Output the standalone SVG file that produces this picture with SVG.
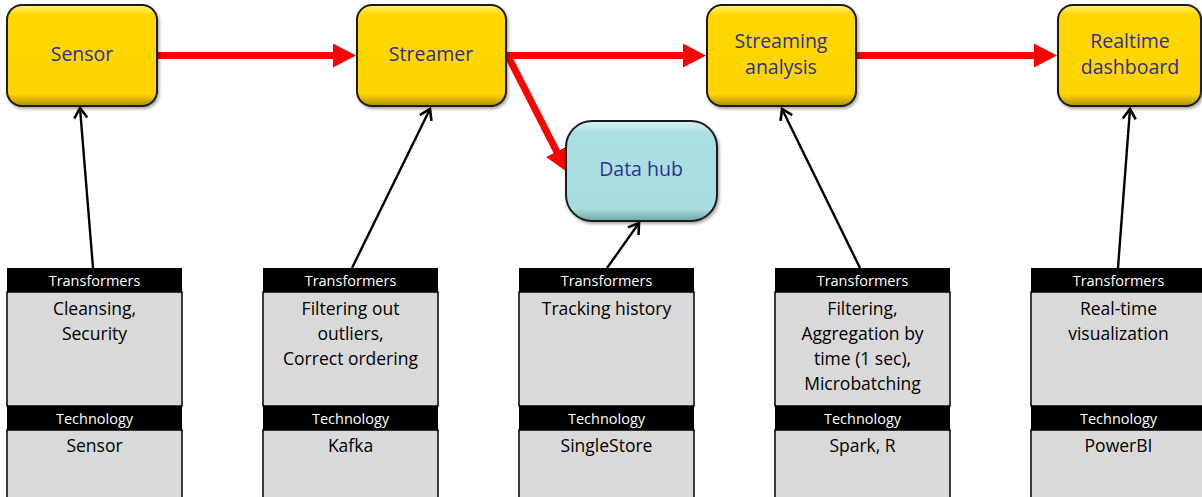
<svg xmlns="http://www.w3.org/2000/svg" width="1202" height="497" viewBox="0 0 1202 497">
<style>
.node{stroke:#1a1a1a;stroke-width:2}
.yel{fill:url(#gy)}
.cyan{fill:url(#gc)}
.nl{font-family:"Open Sans","Liberation Sans",sans-serif;font-size:19.5px;fill:#2E3192;text-anchor:middle}
.hdr{fill:#000}
.hl{font-family:"Open Sans","Liberation Sans",sans-serif;font-size:14.5px;fill:#fff;text-anchor:middle}
.cell{fill:#D9D9D9;stroke:#000;stroke-width:1.5}
.bt{font-family:"Open Sans","Liberation Sans",sans-serif;font-size:17.5px;fill:#000;text-anchor:middle}
.red{stroke:#FF0000;stroke-width:7;fill:none}
.blk{stroke:#000;stroke-width:2.4;fill:none}
</style>
<defs>
<linearGradient id="gy" x1="0" y1="0" x2="0" y2="1">
<stop offset="0" stop-color="#FFF27A"/>
<stop offset="0.1" stop-color="#FFD700"/>
<stop offset="0.88" stop-color="#FFD400"/>
<stop offset="1" stop-color="#B08F00"/>
</linearGradient>
<linearGradient id="gc" x1="0" y1="0" x2="0" y2="1">
<stop offset="0" stop-color="#D8F6F8"/>
<stop offset="0.12" stop-color="#ABDFE2"/>
<stop offset="0.88" stop-color="#A8DDE0"/>
<stop offset="1" stop-color="#6FA4A7"/>
</linearGradient>
<filter id="sh" x="-10%" y="-10%" width="130%" height="130%">
<feDropShadow dx="1.5" dy="2" stdDeviation="1.5" flood-color="#000" flood-opacity="0.35"/>
</filter>
<marker id="rh" markerUnits="userSpaceOnUse" viewBox="0 0 24 24" markerWidth="24" markerHeight="24" refX="5" refY="12" orient="auto">
<path d="M0,0 L23,12 L0,24 Z" fill="#FF0000"/>
</marker>
<marker id="bh" markerUnits="userSpaceOnUse" viewBox="-12 -8 14 16" markerWidth="14" markerHeight="16" refX="0" refY="0" orient="auto">
<path d="M-10,-6.5 L0,0 L-10,6.5" fill="none" stroke="#000" stroke-width="2.6"/>
</marker>
</defs>

<g id="connectors">
<path class="red" d="M157,55.5 L338,55.5" marker-end="url(#rh)"/>
<path class="red" d="M506,55.5 L688,55.5" marker-end="url(#rh)"/>
<path class="red" d="M856,55.5 L1039,55.5" marker-end="url(#rh)"/>
<path class="red" d="M508,56 L559,156" marker-end="url(#rh)"/>
<path class="blk" d="M93,268 L80,108" marker-end="url(#bh)"/>
<path class="blk" d="M352,268 L430,109" marker-end="url(#bh)"/>
<path class="blk" d="M607,268 L639,223" marker-end="url(#bh)"/>
<path class="blk" d="M860,268 L782,109" marker-end="url(#bh)"/>
<path class="blk" d="M1118,268 L1130,109" marker-end="url(#bh)"/>
</g>

<g id="node-sensor">
<rect class="node yel" x="7" y="5" width="150" height="101" rx="15" filter="url(#sh)"/>
<text class="nl" x="82" y="61">Sensor</text>
</g>
<g id="node-streamer">
<rect class="node yel" x="357" y="5" width="149" height="101" rx="15" filter="url(#sh)"/>
<text class="nl" x="431" y="61">Streamer</text>
</g>
<g id="node-streaming-analysis">
<rect class="node yel" x="707" y="5" width="149" height="101" rx="15" filter="url(#sh)"/>
<text class="nl" x="781" y="48">Streaming</text>
<text class="nl" x="781" y="74">analysis</text>
</g>
<g id="node-realtime-dashboard">
<rect class="node yel" x="1058" y="5" width="143" height="101" rx="15" filter="url(#sh)"/>
<text class="nl" x="1130" y="48">Realtime</text>
<text class="nl" x="1130" y="74">dashboard</text>
</g>
<g id="node-data-hub">
<rect class="node cyan" x="566" y="121" width="151" height="100" rx="26" filter="url(#sh)"/>
<text class="nl" x="641" y="176">Data hub</text>
</g>

<g id="table-sensor">
<rect class="cell" x="7" y="292" width="175" height="114"/>
<rect class="cell" x="7" y="430" width="175" height="70"/>
<rect class="hdr" x="7" y="268" width="175" height="24"/>
<rect class="hdr" x="7" y="406" width="175" height="24"/>
<text class="hl" x="94.5" y="286">Transformers</text>
<text class="hl" x="94.5" y="424">Technology</text>
<text class="bt" x="94.5" y="315">Cleansing,</text>
<text class="bt" x="94.5" y="340">Security</text>
<text class="bt" x="94.5" y="452">Sensor</text>
</g>
<g id="table-streamer">
<rect class="cell" x="263" y="292" width="175" height="114"/>
<rect class="cell" x="263" y="430" width="175" height="70"/>
<rect class="hdr" x="263" y="268" width="175" height="24"/>
<rect class="hdr" x="263" y="406" width="175" height="24"/>
<text class="hl" x="350.5" y="286">Transformers</text>
<text class="hl" x="350.5" y="424">Technology</text>
<text class="bt" x="350.5" y="315">Filtering out</text>
<text class="bt" x="350.5" y="340">outliers,</text>
<text class="bt" x="350.5" y="365">Correct ordering</text>
<text class="bt" x="350.5" y="452">Kafka</text>
</g>
<g id="table-data-hub">
<rect class="cell" x="519" y="292" width="175" height="114"/>
<rect class="cell" x="519" y="430" width="175" height="70"/>
<rect class="hdr" x="519" y="268" width="175" height="24"/>
<rect class="hdr" x="519" y="406" width="175" height="24"/>
<text class="hl" x="606.5" y="286">Transformers</text>
<text class="hl" x="606.5" y="424">Technology</text>
<text class="bt" x="606.5" y="315">Tracking history</text>
<text class="bt" x="606.5" y="452">SingleStore</text>
</g>
<g id="table-streaming-analysis">
<rect class="cell" x="775" y="292" width="175" height="114"/>
<rect class="cell" x="775" y="430" width="175" height="70"/>
<rect class="hdr" x="775" y="268" width="175" height="24"/>
<rect class="hdr" x="775" y="406" width="175" height="24"/>
<text class="hl" x="862.5" y="286">Transformers</text>
<text class="hl" x="862.5" y="424">Technology</text>
<text class="bt" x="862.5" y="315">Filtering,</text>
<text class="bt" x="862.5" y="340">Aggregation by</text>
<text class="bt" x="862.5" y="365">time (1 sec),</text>
<text class="bt" x="862.5" y="390">Microbatching</text>
<text class="bt" x="862.5" y="452">Spark, R</text>
</g>
<g id="table-realtime-dashboard">
<rect class="cell" x="1031" y="292" width="175" height="114"/>
<rect class="cell" x="1031" y="430" width="175" height="70"/>
<rect class="hdr" x="1031" y="268" width="175" height="24"/>
<rect class="hdr" x="1031" y="406" width="175" height="24"/>
<text class="hl" x="1118.5" y="286">Transformers</text>
<text class="hl" x="1118.5" y="424">Technology</text>
<text class="bt" x="1118.5" y="315">Real-time</text>
<text class="bt" x="1118.5" y="340">visualization</text>
<text class="bt" x="1118.5" y="452">PowerBI</text>
</g>
</svg>
